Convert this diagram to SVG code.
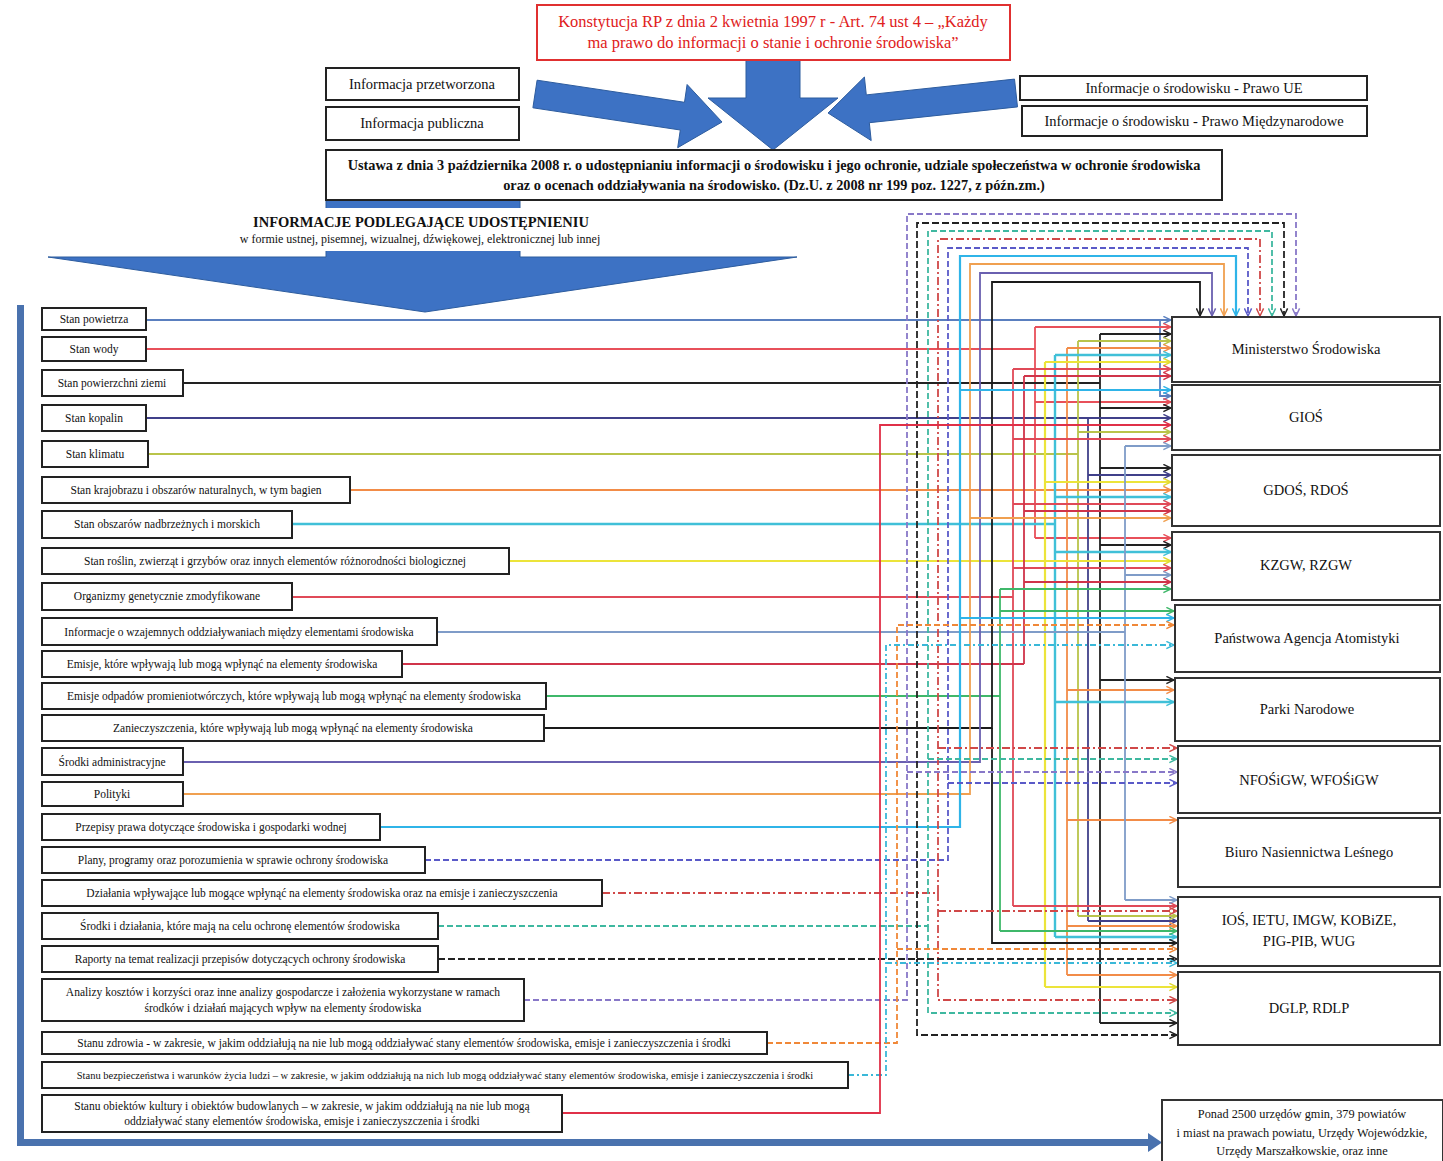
<svg xmlns="http://www.w3.org/2000/svg" width="1443" height="1161" viewBox="0 0 1443 1161">
<style>
.t{font-family:"Liberation Serif","Times New Roman",serif;fill:#111;text-anchor:middle}
.l{font-size:11.5px}
.bx{fill:#fff;stroke:#222;stroke-width:2}
.rb{fill:#fff;stroke:#333;stroke-width:2}
.ar{fill:#3d72c4;stroke:#2d5c9e;stroke-width:1}
.s{fill:none;stroke-width:1.8}
marker path{fill:none;stroke-width:1.6}
.c1{stroke:#5a7fbf}.c2{stroke:#e8505a}.c3{stroke:#222}.c4{stroke:#40408a}.c5{stroke:#b9c44a}.c6{stroke:#f28c48}
.c7{stroke:#40c0d8;stroke-width:2.4}.c8{stroke:#ece43a;stroke-width:2.2}.c9{stroke:#e04a58}.c10{stroke:#7f9cc8}.c11{stroke:#d0344a}.c12{stroke:#3fb86a}
.c13{stroke:#1a1a1a}.c14{stroke:#6a60b0}.c15{stroke:#f0a050}.c16{stroke:#2fb4e8;stroke-width:2.2}
.c17{stroke:#5a5ac8;stroke-dasharray:6 3}.c18{stroke:#d04848;stroke-dasharray:8 3 2 3}.c19{stroke:#3fb8a0;stroke-dasharray:6 3}
.c20{stroke:#222;stroke-dasharray:7 3}.c21{stroke:#8878c8;stroke-dasharray:6 3}.c22{stroke:#f08838;stroke-dasharray:6 3}.c23{stroke:#3ab8d8;stroke-dasharray:6 3 2 3}.c24{stroke:#e03048}
.a.c1{marker-end:url(#m1)}.a.c2{marker-end:url(#m2)}.a.c3,.a.c13,.a.c20{marker-end:url(#m3)}.a.c4{marker-end:url(#m4)}.a.c5{marker-end:url(#m5)}.a.c6{marker-end:url(#m6)}
.a.c7{marker-end:url(#m7)}.a.c8{marker-end:url(#m8)}.a.c9{marker-end:url(#m9)}.a.c10{marker-end:url(#m10)}.a.c11{marker-end:url(#m11)}.a.c12{marker-end:url(#m12)}
.a.c14{marker-end:url(#m14)}.a.c15{marker-end:url(#m15)}.a.c16{marker-end:url(#m16)}.a.c17{marker-end:url(#m17)}.a.c18{marker-end:url(#m18)}.a.c19{marker-end:url(#m19)}
.a.c21{marker-end:url(#m21)}.a.c22{marker-end:url(#m22)}.a.c23{marker-end:url(#m23)}.a.c24{marker-end:url(#m24)}
</style>
<defs>
<marker id="m1" viewBox="0 0 10 10" refX="9.5" refY="5" markerWidth="9" markerHeight="9" markerUnits="userSpaceOnUse" orient="auto"><path d="M1,1L9.5,5L1,9" stroke="#5a7fbf"/></marker>
<marker id="m2" viewBox="0 0 10 10" refX="9.5" refY="5" markerWidth="9" markerHeight="9" markerUnits="userSpaceOnUse" orient="auto"><path d="M1,1L9.5,5L1,9" stroke="#e8505a"/></marker>
<marker id="m3" viewBox="0 0 10 10" refX="9.5" refY="5" markerWidth="9" markerHeight="9" markerUnits="userSpaceOnUse" orient="auto"><path d="M1,1L9.5,5L1,9" stroke="#222"/></marker>
<marker id="m4" viewBox="0 0 10 10" refX="9.5" refY="5" markerWidth="9" markerHeight="9" markerUnits="userSpaceOnUse" orient="auto"><path d="M1,1L9.5,5L1,9" stroke="#40408a"/></marker>
<marker id="m5" viewBox="0 0 10 10" refX="9.5" refY="5" markerWidth="9" markerHeight="9" markerUnits="userSpaceOnUse" orient="auto"><path d="M1,1L9.5,5L1,9" stroke="#b9c44a"/></marker>
<marker id="m6" viewBox="0 0 10 10" refX="9.5" refY="5" markerWidth="9" markerHeight="9" markerUnits="userSpaceOnUse" orient="auto"><path d="M1,1L9.5,5L1,9" stroke="#f28c48"/></marker>
<marker id="m7" viewBox="0 0 10 10" refX="9.5" refY="5" markerWidth="9" markerHeight="9" markerUnits="userSpaceOnUse" orient="auto"><path d="M1,1L9.5,5L1,9" stroke="#40c0d8"/></marker>
<marker id="m8" viewBox="0 0 10 10" refX="9.5" refY="5" markerWidth="9" markerHeight="9" markerUnits="userSpaceOnUse" orient="auto"><path d="M1,1L9.5,5L1,9" stroke="#e0d830"/></marker>
<marker id="m9" viewBox="0 0 10 10" refX="9.5" refY="5" markerWidth="9" markerHeight="9" markerUnits="userSpaceOnUse" orient="auto"><path d="M1,1L9.5,5L1,9" stroke="#e04a58"/></marker>
<marker id="m10" viewBox="0 0 10 10" refX="9.5" refY="5" markerWidth="9" markerHeight="9" markerUnits="userSpaceOnUse" orient="auto"><path d="M1,1L9.5,5L1,9" stroke="#7f9cc8"/></marker>
<marker id="m11" viewBox="0 0 10 10" refX="9.5" refY="5" markerWidth="9" markerHeight="9" markerUnits="userSpaceOnUse" orient="auto"><path d="M1,1L9.5,5L1,9" stroke="#d0344a"/></marker>
<marker id="m12" viewBox="0 0 10 10" refX="9.5" refY="5" markerWidth="9" markerHeight="9" markerUnits="userSpaceOnUse" orient="auto"><path d="M1,1L9.5,5L1,9" stroke="#3fb86a"/></marker>
<marker id="m14" viewBox="0 0 10 10" refX="9.5" refY="5" markerWidth="9" markerHeight="9" markerUnits="userSpaceOnUse" orient="auto"><path d="M1,1L9.5,5L1,9" stroke="#6a60b0"/></marker>
<marker id="m15" viewBox="0 0 10 10" refX="9.5" refY="5" markerWidth="9" markerHeight="9" markerUnits="userSpaceOnUse" orient="auto"><path d="M1,1L9.5,5L1,9" stroke="#f0a050"/></marker>
<marker id="m16" viewBox="0 0 10 10" refX="9.5" refY="5" markerWidth="9" markerHeight="9" markerUnits="userSpaceOnUse" orient="auto"><path d="M1,1L9.5,5L1,9" stroke="#2fb4e8"/></marker>
<marker id="m17" viewBox="0 0 10 10" refX="9.5" refY="5" markerWidth="9" markerHeight="9" markerUnits="userSpaceOnUse" orient="auto"><path d="M1,1L9.5,5L1,9" stroke="#5a5ac8"/></marker>
<marker id="m18" viewBox="0 0 10 10" refX="9.5" refY="5" markerWidth="9" markerHeight="9" markerUnits="userSpaceOnUse" orient="auto"><path d="M1,1L9.5,5L1,9" stroke="#d04848"/></marker>
<marker id="m19" viewBox="0 0 10 10" refX="9.5" refY="5" markerWidth="9" markerHeight="9" markerUnits="userSpaceOnUse" orient="auto"><path d="M1,1L9.5,5L1,9" stroke="#3fb8a0"/></marker>
<marker id="m21" viewBox="0 0 10 10" refX="9.5" refY="5" markerWidth="9" markerHeight="9" markerUnits="userSpaceOnUse" orient="auto"><path d="M1,1L9.5,5L1,9" stroke="#8878c8"/></marker>
<marker id="m22" viewBox="0 0 10 10" refX="9.5" refY="5" markerWidth="9" markerHeight="9" markerUnits="userSpaceOnUse" orient="auto"><path d="M1,1L9.5,5L1,9" stroke="#f08838"/></marker>
<marker id="m23" viewBox="0 0 10 10" refX="9.5" refY="5" markerWidth="9" markerHeight="9" markerUnits="userSpaceOnUse" orient="auto"><path d="M1,1L9.5,5L1,9" stroke="#3ab8d8"/></marker>
<marker id="m24" viewBox="0 0 10 10" refX="9.5" refY="5" markerWidth="9" markerHeight="9" markerUnits="userSpaceOnUse" orient="auto"><path d="M1,1L9.5,5L1,9" stroke="#e03048"/></marker>
</defs>
<rect width="1443" height="1161" fill="#fff"/>

<g id="big-arrows">
<polygon class="ar" points="537.1,80.2 684.5,102.3 687.1,84.5 722,122 677.7,147.7 680.3,130 532.9,107.8"/>
<polygon class="ar" points="1014.5,79.1 866.3,94.9 864.4,77 828,113 871.2,140.6 869.3,122.7 1017.5,106.9"/>
<polygon class="ar" points="746,60 800,60 800,98 838,98 773,150 708,98 746,98"/>
<polygon class="ar" points="326,200 520,200 520,257 797,257 425,312 48,257 326,257"/>
<rect x="226" y="208" width="388" height="43" fill="#fff"/>
<rect x="17" y="305" width="7" height="841" fill="#4a72ae"/>
<rect x="17" y="1139" width="1132" height="7" fill="#4a72ae"/>
<polygon points="1148,1133 1162,1142.5 1148,1152" fill="#4a72ae"/>
</g>

<g id="header">
<g id="n-konstytucja"><rect x="537" y="5" width="473" height="55" fill="#fff" stroke="#e03030" stroke-width="2"/>
<text class="t" x="773" y="27" font-size="16.5" style="fill:#e02020">Konstytucja RP z dnia 2 kwietnia 1997 r - Art. 74 ust 4 – „Każdy</text>
<text class="t" x="773" y="48" font-size="16.5" style="fill:#e02020">ma prawo do informacji o stanie i ochronie środowiska”</text></g>
<g id="n-przetworzona"><rect class="bx" x="326" y="68" width="193" height="32"/><text class="t" x="422" y="89" font-size="14.5">Informacja przetworzona</text></g>
<g id="n-publiczna"><rect class="bx" x="326" y="107" width="193" height="33"/><text class="t" x="422" y="128" font-size="14.5">Informacja publiczna</text></g>
<g id="n-ue"><rect class="bx" x="1020" y="76" width="347" height="24"/><text class="t" x="1194" y="93" font-size="14.5">Informacje o środowisku - Prawo UE</text></g>
<g id="n-miedzynarodowe"><rect class="bx" x="1022" y="106" width="345" height="30"/><text class="t" x="1194" y="126" font-size="14.5">Informacje o środowisku - Prawo Międzynarodowe</text></g>
<g id="n-ustawa"><rect class="bx" x="326" y="150" width="896" height="50"/>
<text class="t" x="774" y="170" font-size="14.3" font-weight="bold">Ustawa z dnia 3 października 2008 r. o udostępnianiu informacji o środowisku i jego ochronie, udziale społeczeństwa w ochronie środowiska</text>
<text class="t" x="774" y="190" font-size="14.3" font-weight="bold">oraz o ocenach oddziaływania na środowisko. (Dz.U. z 2008 nr 199 poz. 1227, z późn.zm.)</text></g>
<g id="n-heading">
<text class="t" x="421" y="227" font-size="14.5" font-weight="bold">INFORMACJE PODLEGAJĄCE UDOSTĘPNIENIU</text>
<text class="t" x="420" y="243" font-size="12">w formie ustnej, pisemnej, wizualnej, dźwiękowej, elektronicznej lub innej</text></g>
</g>

<g id="connectors">
<path class="s c1 a" d="M146,320H1171"/><path class="s c1 a" d="M1160,320V396H1171"/>
<path class="s c2" d="M146,349H1035M1035,327V538"/><path class="s c2 a" d="M1035,327H1171"/><path class="s c2 a" d="M1035,402H1171"/><path class="s c2 a" d="M1035,538H1171"/>
<path class="s c3" d="M183,383H1100M1100,334V1023"/><path class="s c3 a" d="M1100,334H1171"/><path class="s c3 a" d="M1100,408H1171"/><path class="s c3 a" d="M1100,468H1171"/><path class="s c3 a" d="M1100,545H1171"/><path class="s c3 a" d="M1100,680H1174"/><path class="s c3 a" d="M1100,1023H1177"/>
<path class="s c4 a" d="M146,418H1171"/><path class="s c4" d="M1088,418V921"/><path class="s c4 a" d="M1088,475H1171"/><path class="s c4 a" d="M1088,921H1177"/>
<path class="s c5" d="M148,454H1078M1078,341V916"/><path class="s c5 a" d="M1078,341H1171"/><path class="s c5 a" d="M1078,432H1171"/><path class="s c5 a" d="M1078,916H1177"/>
<path class="s c6 a" d="M350,490H1171"/><path class="s c6" d="M1067,348V975"/><path class="s c6 a" d="M1067,348H1171"/><path class="s c6 a" d="M1067,690H1174"/><path class="s c6 a" d="M1067,820H1177"/><path class="s c6 a" d="M1067,926H1177"/><path class="s c6 a" d="M1067,975H1177"/>
<path class="s c7" d="M292,524H1055M1055,355V937"/><path class="s c7 a" d="M1055,355H1171"/><path class="s c7 a" d="M1055,497H1171"/><path class="s c7 a" d="M1055,552H1171"/><path class="s c7 a" d="M1055,702H1174"/><path class="s c7 a" d="M1055,937H1177"/>
<path class="s c8 a" d="M509,561H1171"/><path class="s c8" d="M1045,362V987"/><path class="s c8 a" d="M1045,362H1171"/><path class="s c8 a" d="M1045,482H1171"/><path class="s c8 a" d="M1045,987H1177"/>
<path class="s c9" d="M292,597H1013M1013,369V906"/><path class="s c9 a" d="M1013,369H1171"/><path class="s c9 a" d="M1013,439H1171"/><path class="s c9 a" d="M1013,504H1171"/><path class="s c9 a" d="M1013,568H1171"/><path class="s c9 a" d="M1013,906H1177"/>
<path class="s c10" d="M437,632H1125M1125,446V900"/><path class="s c10 a" d="M1125,446H1171"/><path class="s c10 a" d="M1125,575H1171"/><path class="s c10 a" d="M1125,900H1177"/>
<path class="s c11" d="M402,664H1024M1024,376V664"/><path class="s c11 a" d="M1024,376H1171"/><path class="s c11 a" d="M1024,511H1171"/><path class="s c11 a" d="M1024,582H1171"/>
<path class="s c12" d="M546,696H1000M1000,589V931"/><path class="s c12 a" d="M1000,589H1171"/><path class="s c12 a" d="M1000,611H1174"/><path class="s c12 a" d="M1000,931H1177"/>
<path class="s c13 a" d="M544,728H992V282H1200V316"/><path class="s c13 a" d="M992,728V943H1177"/>
<path class="s c14 a" d="M183,762H980V273H1212V316"/>
<path class="s c15 a" d="M183,794H970V264H1224V316"/><path class="s c15 a" d="M970,518H1171"/>
<path class="s c16 a" d="M380,827H960V256H1236V316"/><path class="s c16 a" d="M960,390H1171"/><path class="s c16 a" d="M960,618H1174"/>
<path class="s c17 a" d="M425,860H948V248H1248V316"/><path class="s c17 a" d="M948,783H1177"/>
<path class="s c18 a" d="M602,893H938V239H1260V316"/><path class="s c18 a" d="M938,748H1177"/><path class="s c18 a" d="M938,911H1177"/><path class="s c18 a" d="M938,893V1000H1177"/>
<path class="s c19 a" d="M438,926H928V231H1272V316"/><path class="s c19 a" d="M928,759H1177"/><path class="s c19 a" d="M928,926V1013H1177"/>
<path class="s c20 a" d="M438,959H917V223H1284V316"/><path class="s c20 a" d="M917,959H1177"/><path class="s c20 a" d="M917,959V1035H1177"/>
<path class="s c21 a" d="M524,1000H907V214H1296V316"/><path class="s c21 a" d="M907,772H1177"/>
<path class="s c22 a" d="M767,1043H897V625H1174"/><path class="s c22 a" d="M897,949H1177"/>
<path class="s c23 a" d="M848,1075H886V645H1174"/><path class="s c23 a" d="M886,963H1177"/>
<path class="s c24 a" d="M562,1113H880V425H1171"/>
</g>

<g id="sources">
<g id="src1"><rect class="bx" x="42" y="308" width="104" height="22"/><text class="t l" x="94" y="323">Stan powietrza</text></g>
<g id="src2"><rect class="bx" x="42" y="337" width="104" height="24"/><text class="t l" x="94" y="353">Stan wody</text></g>
<g id="src3"><rect class="bx" x="42" y="370" width="141" height="26"/><text class="t l" x="112" y="387">Stan powierzchni ziemi</text></g>
<g id="src4"><rect class="bx" x="42" y="405" width="104" height="26"/><text class="t l" x="94" y="422">Stan kopalin</text></g>
<g id="src5"><rect class="bx" x="42" y="441" width="106" height="26"/><text class="t l" x="95" y="458">Stan klimatu</text></g>
<g id="src6"><rect class="bx" x="42" y="477" width="308" height="26"/><text class="t l" x="196" y="494">Stan krajobrazu i obszarów naturalnych, w tym bagien</text></g>
<g id="src7"><rect class="bx" x="42" y="511" width="250" height="27"/><text class="t l" x="167" y="528">Stan obszarów nadbrzeżnych i morskich</text></g>
<g id="src8"><rect class="bx" x="42" y="548" width="467" height="26"/><text class="t l" x="275" y="565">Stan roślin, zwierząt i grzybów oraz innych elementów różnorodności biologicznej</text></g>
<g id="src9"><rect class="bx" x="42" y="583" width="250" height="27"/><text class="t l" x="167" y="600">Organizmy genetycznie zmodyfikowane</text></g>
<g id="src10"><rect class="bx" x="42" y="618" width="395" height="27"/><text class="t l" x="239" y="636">Informacje o wzajemnych oddziaływaniach między elementami środowiska</text></g>
<g id="src11"><rect class="bx" x="42" y="651" width="360" height="26"/><text class="t l" x="222" y="668">Emisje, które wpływają lub mogą wpłynąć na elementy środowiska</text></g>
<g id="src12"><rect class="bx" x="42" y="683" width="504" height="26"/><text class="t l" x="294" y="700">Emisje odpadów promieniotwórczych, które wpływają lub mogą wpłynąć na elementy środowiska</text></g>
<g id="src13"><rect class="bx" x="42" y="715" width="502" height="26"/><text class="t l" x="293" y="732">Zanieczyszczenia, które wpływają lub mogą wpłynąć na elementy środowiska</text></g>
<g id="src14"><rect class="bx" x="42" y="748" width="141" height="27"/><text class="t l" x="112" y="766">Środki administracyjne</text></g>
<g id="src15"><rect class="bx" x="42" y="782" width="141" height="24"/><text class="t l" x="112" y="798">Polityki</text></g>
<g id="src16"><rect class="bx" x="42" y="814" width="338" height="26"/><text class="t l" x="211" y="831">Przepisy prawa dotyczące środowiska i gospodarki wodnej</text></g>
<g id="src17"><rect class="bx" x="42" y="847" width="383" height="26"/><text class="t l" x="233" y="864">Plany, programy oraz porozumienia w sprawie ochrony środowiska</text></g>
<g id="src18"><rect class="bx" x="42" y="880" width="560" height="26"/><text class="t l" x="322" y="897">Działania wpływające lub mogące wpłynąć na elementy środowiska oraz na emisje i zanieczyszczenia</text></g>
<g id="src19"><rect class="bx" x="42" y="913" width="396" height="26"/><text class="t l" x="240" y="930">Środki i działania, które mają na celu ochronę elementów środowiska</text></g>
<g id="src20"><rect class="bx" x="42" y="946" width="396" height="26"/><text class="t l" x="240" y="963">Raporty na temat realizacji przepisów dotyczących ochrony środowiska</text></g>
<g id="src21"><rect class="bx" x="42" y="979" width="482" height="42"/><text class="t l" x="283" y="996">Analizy kosztów i korzyści oraz inne analizy gospodarcze i założenia wykorzystane w ramach</text><text class="t l" x="283" y="1012">środków i działań mających wpływ na elementy środowiska</text></g>
<g id="src22"><rect class="bx" x="42" y="1032" width="725" height="22"/><text class="t l" x="404" y="1047">Stanu zdrowia - w zakresie, w jakim oddziałują na nie lub mogą oddziaływać stany elementów środowiska, emisje i zanieczyszczenia i środki</text></g>
<g id="src23"><rect class="bx" x="42" y="1062" width="806" height="26"/><text class="t" x="445" y="1079" font-size="10.5">Stanu bezpieczeństwa i warunków życia ludzi – w zakresie, w jakim oddziałują na nich lub mogą oddziaływać stany elementów środowiska, emisje i zanieczyszczenia i środki</text></g>
<g id="src24"><rect class="bx" x="42" y="1095" width="520" height="37"/><text class="t l" x="302" y="1110">Stanu obiektów kultury i obiektów budowlanych – w zakresie, w jakim oddziałują na nie lub mogą</text><text class="t l" x="302" y="1125">oddziaływać stany elementów środowiska, emisje i zanieczyszczenia i środki</text></g>
</g>

<g id="targets">
<g id="t-ms"><rect class="rb" x="1172" y="317" width="268" height="65"/><text class="t" x="1306" y="354" font-size="14.5">Ministerstwo Środowiska</text></g>
<g id="t-gios"><rect class="rb" x="1172" y="385" width="268" height="65"/><text class="t" x="1306" y="422" font-size="14.5">GIOŚ</text></g>
<g id="t-gdos"><rect class="rb" x="1172" y="455" width="268" height="71"/><text class="t" x="1306" y="495" font-size="14.5">GDOŚ, RDOŚ</text></g>
<g id="t-kzgw"><rect class="rb" x="1172" y="532" width="268" height="68"/><text class="t" x="1306" y="570" font-size="14.5">KZGW, RZGW</text></g>
<g id="t-paa"><rect class="rb" x="1175" y="605" width="265" height="67"/><text class="t" x="1307" y="643" font-size="14.5">Państwowa Agencja Atomistyki</text></g>
<g id="t-pn"><rect class="rb" x="1175" y="678" width="265" height="63"/><text class="t" x="1307" y="714" font-size="14.5">Parki Narodowe</text></g>
<g id="t-nfos"><rect class="rb" x="1178" y="746" width="262" height="67"/><text class="t" x="1309" y="785" font-size="14.5">NFOŚiGW, WFOŚiGW</text></g>
<g id="t-bnl"><rect class="rb" x="1178" y="818" width="262" height="69"/><text class="t" x="1309" y="857" font-size="14.5">Biuro Nasiennictwa Leśnego</text></g>
<g id="t-ios"><rect class="rb" x="1178" y="897" width="262" height="69"/><text class="t" x="1309" y="925" font-size="14.5">IOŚ, IETU, IMGW, KOBiZE,</text><text class="t" x="1309" y="946" font-size="14.5">PIG-PIB, WUG</text></g>
<g id="t-dglp"><rect class="rb" x="1178" y="972" width="262" height="73"/><text class="t" x="1309" y="1013" font-size="14.5">DGLP, RDLP</text></g>
<g id="t-gminy"><rect class="rb" x="1162" y="1100" width="281" height="70"/><text class="t" x="1302" y="1118" font-size="12.3">Ponad 2500 urzędów gmin, 379 powiatów</text><text class="t" x="1302" y="1137" font-size="12.3">i miast na prawach powiatu, Urzędy Wojewódzkie,</text><text class="t" x="1302" y="1155" font-size="12.3">Urzędy Marszałkowskie, oraz inne</text></g>
</g>
</svg>
